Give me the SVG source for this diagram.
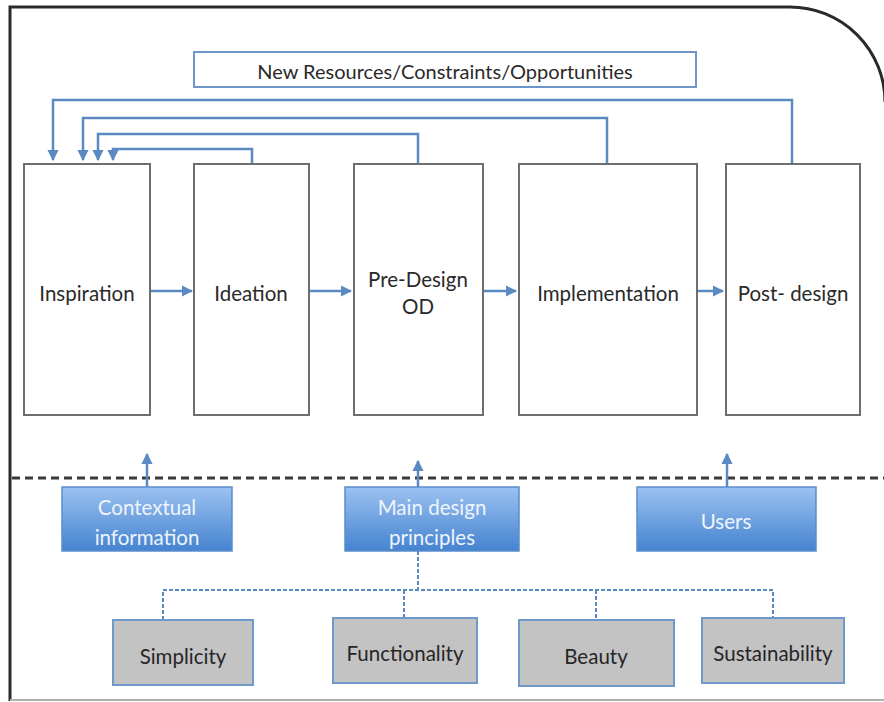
<svg xmlns="http://www.w3.org/2000/svg" width="884" height="702" viewBox="0 0 884 702">
<defs>
<style>
text{font-family:Lato,"Liberation Sans",sans-serif;text-anchor:middle;dominant-baseline:central}
.box{fill:#fff;stroke:#6e6e6e;stroke-width:2}
.lbl{font-size:20.5px;fill:#2a2a2a}
.blue{fill:url(#bg);stroke:#5a8dcc;stroke-width:1.5}
.wl{font-size:20.5px;fill:#eef4fc}
.gray{fill:#c3c3c3;stroke:#6f98cb;stroke-width:2}
.gl{font-size:20.5px;fill:#262626}
.fb{fill:none;stroke:#5b8ac2;stroke-width:2.5}
.dash{fill:none;stroke:#5b8ac2;stroke-width:2;stroke-dasharray:4 2}
</style>
<linearGradient id="bg" x1="0" y1="0" x2="0" y2="1">
<stop offset="0" stop-color="#9cc2f1"/>
<stop offset="1" stop-color="#4583d0"/>
</linearGradient>
<marker id="ah" viewBox="0 0 10 10" refX="9" refY="5" markerWidth="4.5" markerHeight="4.5" orient="auto" markerUnits="strokeWidth">
<path d="M0,0 L10,5 L0,10 z" fill="#5b8ac2"/>
</marker>
</defs>
<rect width="884" height="702" fill="#fff"/>
<path d="M10,701 V7 H790 A95,95 0 0 1 885,102" fill="none" stroke="#2a2a2a" stroke-width="3"/>
<line x1="10" y1="700" x2="884" y2="700" stroke="#b0b0b0" stroke-width="2"/>
<line x1="12" y1="478" x2="884" y2="478" stroke="#3a3a3a" stroke-width="3" stroke-dasharray="8 5"/>

<g id="connectors">
<path class="fb" d="M792,164 V100 H53 V160" marker-end="url(#ah)"/>
<path class="fb" d="M607,164 V118 H83 V160" marker-end="url(#ah)"/>
<path class="fb" d="M418,164 V134 H98 V160" marker-end="url(#ah)"/>
<path class="fb" d="M252,164 V149 H113 V160" marker-end="url(#ah)"/>
<path class="fb" d="M150,291 H192" marker-end="url(#ah)"/>
<path class="fb" d="M309,291 H351" marker-end="url(#ah)"/>
<path class="fb" d="M483,291 H516" marker-end="url(#ah)"/>
<path class="fb" d="M697,291 H723" marker-end="url(#ah)"/>
<path class="fb" d="M147,487 V454" marker-end="url(#ah)"/>
<path class="fb" d="M418,487 V461" marker-end="url(#ah)"/>
<path class="fb" d="M727,487 V454" marker-end="url(#ah)"/>
<path class="dash" d="M418,551 V590"/>
<path class="dash" d="M163,620 V590 H773 V619"/>
<path class="dash" d="M404,590 V618"/>
<path class="dash" d="M596,590 V620"/>
</g>

<g id="n-title">
<rect x="194" y="52" width="502" height="35" fill="#fff" stroke="#6d95c8" stroke-width="2"/>
<text x="445" y="71" class="lbl" style="font-size:20px">New Resources/Constraints/Opportunities</text>
</g>
<g id="n-inspiration">
<rect class="box" x="24" y="164" width="126" height="251"/>
<text class="lbl" x="87" y="293">Inspiration</text>
</g>
<g id="n-ideation">
<rect class="box" x="194" y="164" width="115" height="251"/>
<text class="lbl" x="251" y="293">Ideation</text>
</g>
<g id="n-predesign">
<rect class="box" x="354" y="164" width="129" height="251"/>
<text class="lbl" x="418" y="279">Pre-Design</text>
<text class="lbl" x="418" y="306">OD</text>
</g>
<g id="n-implementation">
<rect class="box" x="519" y="164" width="178" height="251"/>
<text class="lbl" x="608" y="293">Implementation</text>
</g>
<g id="n-postdesign">
<rect class="box" x="726" y="164" width="134" height="251"/>
<text class="lbl" x="793" y="293">Post- design</text>
</g>

<g id="n-contextual">
<rect class="blue" x="62" y="487" width="170" height="64"/>
<text class="wl" x="147" y="507">Contextual</text>
<text class="wl" x="147" y="537">information</text>
</g>
<g id="n-main">
<rect class="blue" x="345" y="487" width="174" height="64"/>
<text class="wl" x="432" y="507">Main design</text>
<text class="wl" x="432" y="537">principles</text>
</g>
<g id="n-users">
<rect class="blue" x="637" y="487" width="179" height="64"/>
<text class="wl" x="726" y="521">Users</text>
</g>

<g id="n-simplicity">
<rect class="gray" x="113" y="620" width="140" height="65"/>
<text class="gl" x="183" y="656">Simplicity</text>
</g>
<g id="n-functionality">
<rect class="gray" x="333" y="618" width="144" height="65"/>
<text class="gl" x="405" y="653">Functionality</text>
</g>
<g id="n-beauty">
<rect class="gray" x="519" y="620" width="155" height="66"/>
<text class="gl" x="596" y="656">Beauty</text>
</g>
<g id="n-sustainability">
<rect class="gray" x="702" y="618" width="142" height="65"/>
<text class="gl" x="773" y="653">Sustainability</text>
</g>
</svg>
